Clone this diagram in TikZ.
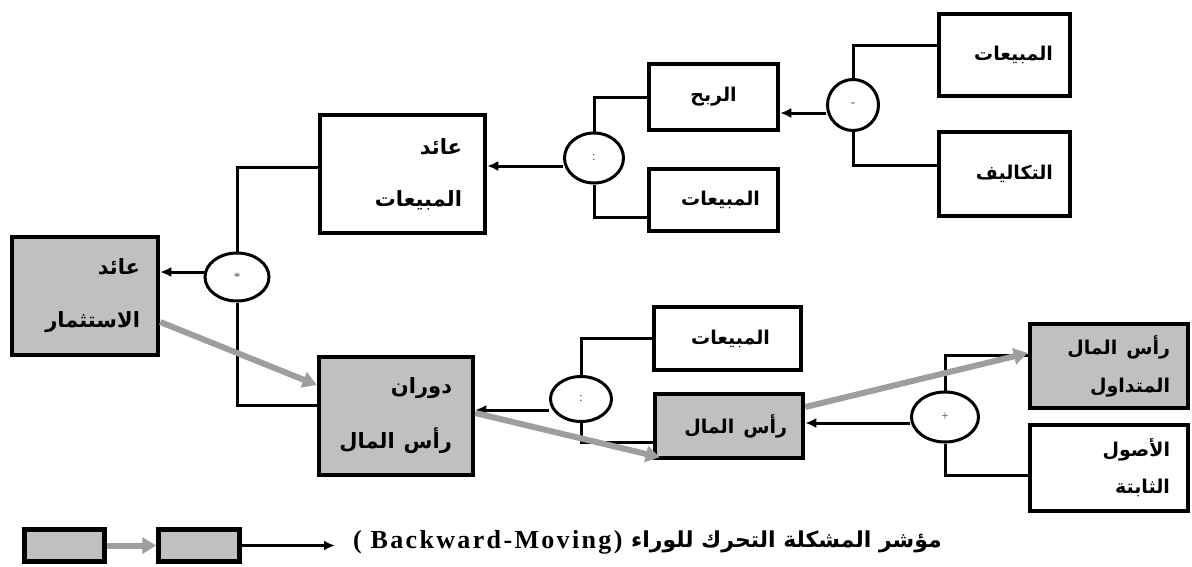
\documentclass[tikz,border=0pt]{standalone}
\usepackage{fontspec}
\usetikzlibrary{shapes.geometric,arrows.meta}
\TeXXeTstate=1
\setmainfont{Liberation Serif}
\newfontfamily\arabicfont[Script=Arabic]{DejaVu Sans}
\newcommand\ar[1]{{\arabicfont\bfseries\beginR #1\endR}}
\newcommand\wsp{\hspace{9pt}}
\definecolor{boxgray}{RGB}{192,192,192}
\definecolor{flowgray}{RGB}{158,158,158}
\definecolor{opgray}{RGB}{80,80,80}
\tikzset{
  box/.style={draw, line width=4.5pt, inner sep=0pt, align=right},
  shaded/.style={box, fill=boxgray},
  lh/.style={font=\fontsize{19}{#1}\selectfont},
  biglh/.style={font=\fontsize{21}{#1}\selectfont},
  op/.style={draw, ellipse, line width=3pt, inner sep=0pt, fill=white,
             text=opgray, font=\fontsize{13}{14}\selectfont},
  link/.style={line width=3pt},
  arr/.style={link, -{Latex[length=11pt,width=10pt]}},
  flow/.style={line width=6pt, draw=flowgray, -{Triangle[length=14pt,width=16pt]}}
}
\begin{document}
\begin{tikzpicture}[x=1pt,y=-1pt]
\useasboundingbox (0,0) rectangle (1192,566);

% boxes
\node[shaded, biglh=53, minimum width=146pt, minimum height=118pt, text width=110pt] (roi) at (85,296) {\ar{عائد}\\\ar{الاستثمار}};
\node[box, biglh=52, minimum width=165pt, minimum height=118pt, text width=119pt] (rs) at (402.5,174) {\ar{عائد}\\\ar{المبيعات}};
\node[box, lh=24, minimum width=129pt, minimum height=66pt, text width=90pt, align=center] (profit) at (713.5,97) {\ar{الربح}};
\node[box, lh=24, minimum width=129pt, minimum height=62pt, text width=93pt] (salesB) at (713.5,200) {\ar{المبيعات}};
\node[box, lh=24, minimum width=131pt, minimum height=82pt, text width=97pt] (salesA) at (1004.5,55) {\ar{المبيعات}};
\node[box, lh=24, minimum width=131pt, minimum height=84pt, text width=97pt] (costs) at (1004.5,174) {\ar{التكاليف}};
\node[shaded, biglh=55, minimum width=154pt, minimum height=118pt, text width=112pt] (turn) at (396,416) {\ar{دوران}\\\makebox[112pt][r]{\ar{رأس\wsp المال}}};
\node[box, lh=24, minimum width=147pt, minimum height=63pt, text width=85pt] (salesC) at (727.5,338.5) {\ar{المبيعات}};
\node[shaded, lh=24, minimum width=148pt, minimum height=64pt, text width=116pt] (cap) at (729,426) {\ar{رأس\wsp المال}};
\node[shaded, lh=38, minimum width=158pt, minimum height=84pt, text width=122pt] (wc) at (1109,366) {\ar{رأس\wsp المال}\\\ar{المتداول}};
\node[box, lh=37, minimum width=158pt, minimum height=86pt, text width=122pt] (fixed) at (1109,468) {\ar{الأصول}\\\ar{الثابتة}};

% operators
\node[op, minimum width=64pt, minimum height=48pt] (star) at (237,277) {*};
\node[op, minimum width=59pt, minimum height=50pt] (divA) at (594,158) {:};
\node[op, minimum width=51pt, minimum height=51pt] (minus) at (853,105) {-};
\node[op, minimum width=61pt, minimum height=45pt] (divB) at (581,399) {:};
\node[op, minimum width=67pt, minimum height=50pt] (plus) at (945,417) {+};

% results flowing into each box
\coordinate (starOut) at ([yshift=5pt]star.west);
\coordinate (divAOut) at ([yshift=-8pt]divA.west);
\coordinate (minusOut) at ([yshift=-8pt]minus.west);
\coordinate (divBOut) at ([yshift=-11pt]divB.west);
\coordinate (plusOut) at ([yshift=-6pt]plus.west);
\draw[arr] (starOut) -- (starOut -| roi.east);
\draw[arr] (divAOut) -- (divAOut -| rs.east);
\draw[arr] (minusOut) -- (minusOut -| profit.east);
\draw[arr] (divBOut) -- (divBOut -| turn.east);
\draw[arr] (plusOut) -- (plusOut -| cap.east);

% operands
\draw[link] (star.north) |- ([yshift=7pt]rs.west);
\draw[link] (star.south) |- ([yshift=11pt]turn.west);
\draw[link] (divA.north) |- (profit.west);
\draw[link] (divA.south) |- ([yshift=-17pt]salesB.west);
\draw[link] (minus.north) |- ([yshift=10pt]salesA.west);
\draw[link] (minus.south) |- ([yshift=9pt]costs.west);
\draw[link] (divB.north) |- (salesC.west);
\draw[link] (divB.south) |- ([yshift=-16pt]cap.west);
\draw[link] (plus.north) |- ([yshift=11pt]wc.west);
\draw[link] (plus.south) |- ([yshift=-7pt]fixed.west);

% backward-moving problem path
\draw[flow] ([yshift=-26pt]roi.east) -- ([yshift=31pt]turn.west);
\draw[flow] ([yshift=3pt]turn.east) -- ([xshift=7pt,yshift=3pt]cap.south west);
\draw[flow] ([yshift=19pt]cap.east) -- ([yshift=13pt]wc.west);

% key
\node[shaded, minimum width=80pt, minimum height=32pt] (keyA) at (64.5,545.5) {};
\node[shaded, minimum width=81pt, minimum height=32pt] (keyB) at (199,545.5) {};
\draw[flow] (keyA.east) -- (keyB.west);
\coordinate (keyEnd) at (335,545.5);
\draw[arr, line width=2.5pt] (keyB.east) -- (keyEnd);
\node[anchor=east, inner sep=0pt, font=\fontsize{22}{26}\selectfont] (keyAr) at (942,542) {\ar{مؤشر المشكلة التحرك للوراء}};
\node[anchor=west, inner sep=0pt, font=\fontsize{26}{30}\selectfont\bfseries\addfontfeatures{LetterSpace=9}] (keyEn) at (353,542) {( Backward-Moving)};
\end{tikzpicture}
\end{document}
